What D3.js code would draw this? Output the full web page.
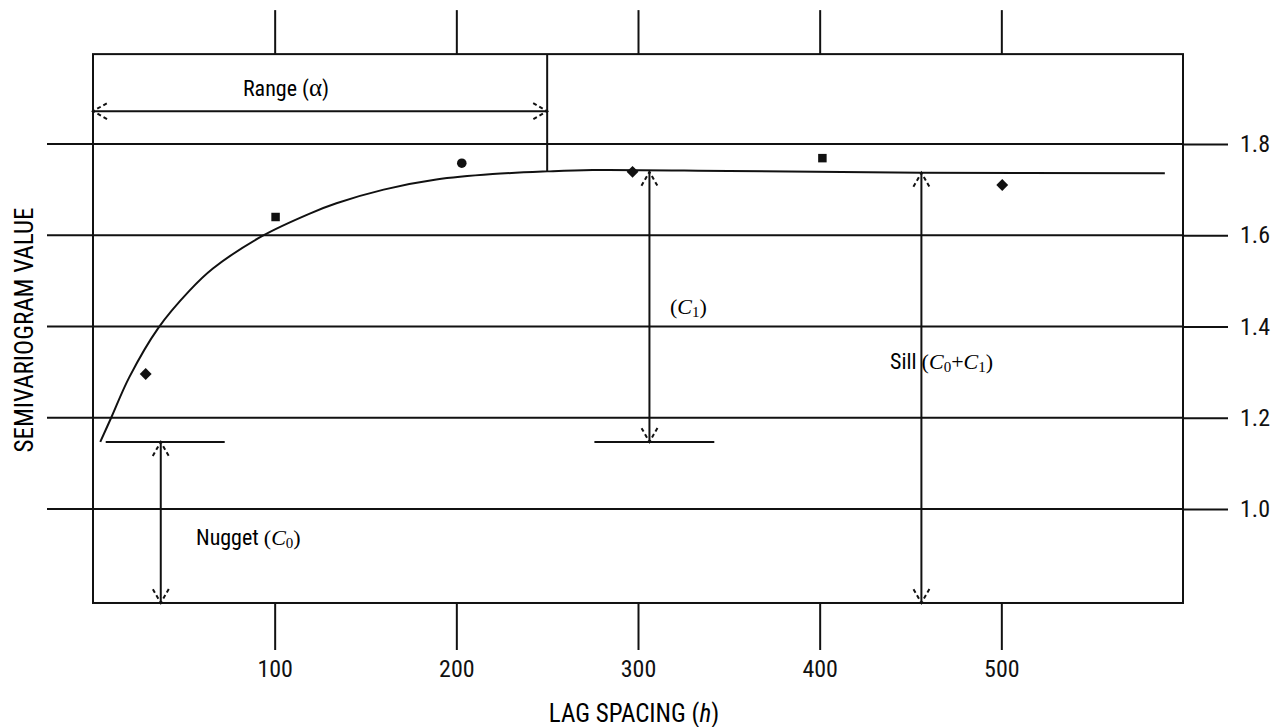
<!DOCTYPE html>
<meta charset="utf-8">
<style>
  body { margin: 0; background: #fff; }
  svg { display: block; }
  .sans { font-family: "Liberation Sans Narrow", "Roboto Condensed", "Arial Narrow", sans-serif; }
  .serif { font-family: "Liberation Serif", "DejaVu Serif", serif; }
</style>
<svg width="1277" height="727"></svg>
<script src="https://d3js.org/d3.v7.min.js"></script>
<script>

// lag spacing ticks and semivariogram ticks
var xTicks = [100, 200, 300, 400, 500],
    yTicks = [1.0, 1.2, 1.4, 1.6, 1.8];

var lag   = [29, 100.5, 203, 297, 401.5, 500.5],
    gamma = [1.296, 1.640, 1.758, 1.739, 1.769, 1.710],
    shape = ["diamond", "square", "circle", "diamond", "square", "diamond"];

// fitted model curve
var curveH = [4, 10, 20, 36, 53, 66, 93, 119, 134, 160, 189, 220, 250, 275, 350, 456, 590],
    curveG = [1.147, 1.2, 1.289, 1.397, 1.478, 1.527, 1.598, 1.647, 1.670, 1.700, 1.722, 1.734, 1.740, 1.743, 1.741, 1.737, 1.736];

// model parameters
var nugget = 1.147, sill = 1.739, range = 250;

var svg = d3.select("svg");

var x = d3.scaleLinear().domain([0, 600]).range([93, 1183]),
    y = d3.scaleLinear().domain([1.0, 1.8]).range([509, 144]);

var yTop = 1.997, yBot = 0.794;

// horizontal grid lines
svg.append("g").selectAll("line")
    .data(yTicks)
  .enter().append("line")
    .attr("x1", 47).attr("x2", 1183)
    .attr("y1", d => y(d)).attr("y2", d => y(d))
    .attr("stroke", "#111").attr("stroke-width", 2);

// frame
svg.append("rect")
    .attr("x", x(0)).attr("y", y(yTop))
    .attr("width", x(600) - x(0)).attr("height", y(yBot) - y(yTop))
    .attr("fill", "none").attr("stroke", "#111").attr("stroke-width", 2);

// axes
var ax = svg.append("g").attr("transform", "translate(0," + y(yBot) + ")")
    .call(d3.axisBottom(x).tickValues(xTicks).tickSize(47).tickPadding(10).tickFormat(d3.format("d")));
var at = svg.append("g").attr("transform", "translate(0," + y(yTop) + ")")
    .call(d3.axisTop(x).tickValues(xTicks).tickSize(44).tickFormat(""));
var ar = svg.append("g").attr("transform", "translate(" + x(600) + ",0)")
    .call(d3.axisRight(y).tickValues(yTicks).tickSize(45).tickPadding(12).tickFormat(d3.format(".1f")));

[ax, at, ar].forEach(function(g) {
  g.select(".domain").remove();
  g.selectAll(".tick line").attr("stroke", "#111").attr("stroke-width", 2);
  g.selectAll("text").attr("class", "sans").attr("font-size", 24).attr("fill", "#111").attr("font-family", null);
});

// arrowhead: open, broken chevron
var defs = svg.append("defs");
defs.append("marker")
    .attr("id", "chev")
    .attr("markerUnits", "userSpaceOnUse")
    .attr("markerWidth", 24).attr("markerHeight", 24)
    .attr("viewBox", "-20 -12 24 24")
    .attr("refX", 0).attr("refY", 0)
    .attr("orient", "auto-start-reverse")
  .append("path")
    .attr("d", "M-14,-8L0,0L-14,8")
    .attr("fill", "none").attr("stroke", "#111").attr("stroke-width", 2)
    .attr("stroke-dasharray", "4,3");

function arrow(x1, y1, x2, y2) {
  svg.append("line")
      .attr("x1", x1).attr("y1", y1).attr("x2", x2).attr("y2", y2)
      .attr("stroke", "#111").attr("stroke-width", 2)
      .attr("marker-start", "url(#chev)").attr("marker-end", "url(#chev)");
}
function seg(x1, y1, x2, y2) {
  svg.append("line")
      .attr("x1", x1).attr("y1", y1).attr("x2", x2).attr("y2", y2)
      .attr("stroke", "#111").attr("stroke-width", 2);
}

// range
arrow(x(0), y(1.872), x(range), y(1.872));
seg(x(range), y(yTop), x(range), y(1.740));
// nugget
seg(x(7), y(nugget), x(72.5), y(nugget));
arrow(x(37.3), y(nugget), x(37.3), y(yBot));
// partial sill
seg(x(276), y(nugget), x(342), y(nugget));
arrow(x(306.3), y(sill), x(306.3), y(nugget));
// sill
arrow(x(456), y(1.737), x(456), y(yBot));

// model curve
var line = d3.line().x(d => x(d[0])).y(d => y(d[1])).curve(d3.curveCatmullRom.alpha(0.5));
svg.append("path")
    .datum(d3.zip(curveH, curveG))
    .attr("d", line)
    .attr("fill", "none").attr("stroke", "#111").attr("stroke-width", 2);

// observed points
var symbols = { diamond: d3.symbolDiamond2, square: d3.symbolSquare, circle: d3.symbolCircle };
svg.append("g").selectAll("path")
    .data(d3.range(lag.length))
  .enter().append("path")
    .attr("transform", i => "translate(" + x(lag[i]) + "," + y(gamma[i]) + ")")
    .attr("d", i => d3.symbol().type(symbols[shape[i]]).size(shape[i] === "diamond" ? 90 : 72)())
    .attr("fill", "#111");

// labels
var rl = svg.append("text").attr("font-size", 22)
    .attr("x", 286).attr("y", y(1.872) - 15).attr("text-anchor", "middle");
rl.append("tspan").attr("class", "sans").text("Range (");
rl.append("tspan").attr("class", "serif").attr("font-size", 25).text("\u03b1");
rl.append("tspan").attr("class", "sans").text(")");

function param(xp, yp, lead, parts) {
  var tx = svg.append("text").attr("x", xp).attr("y", yp).attr("font-size", 22);
  if (lead) tx.append("tspan").attr("class", "sans").text(lead);
  parts.forEach(function(p) {
    var s = tx.append("tspan").attr("class", "serif").text(p[0]);
    if (p[1] === "i") s.attr("font-style", "italic");
    if (p[1] === "sub") s.attr("font-size", 15).attr("dy", 3);
    if (p[1] === "up") s.attr("dy", -3);
  });
  return tx;
}

param(196, 545, "Nugget  ", [["(", ""], ["C", "i"], ["0", "sub"], [")", "up"]]);
param(670, 314, null, [["(", ""], ["C", "i"], ["1", "sub"], [")", "up"]]);
param(890, 369, "Sill   ", [["(", ""], ["C", "i"], ["0", "sub"], ["+", "up"], ["C", "i"], ["1", "sub"], [")", "up"]]);

// axis titles
var xt = svg.append("text").attr("class", "sans").attr("font-size", 25)
    .attr("x", 634).attr("y", 722).attr("text-anchor", "middle");
xt.append("tspan").text("LAG SPACING (");
xt.append("tspan").attr("font-style", "italic").text("h");
xt.append("tspan").text(")");

svg.append("text").attr("class", "sans").attr("font-size", 25)
    .attr("transform", "translate(33,330)rotate(-90)").attr("text-anchor", "middle")
    .text("SEMIVARIOGRAM VALUE");

</script>
